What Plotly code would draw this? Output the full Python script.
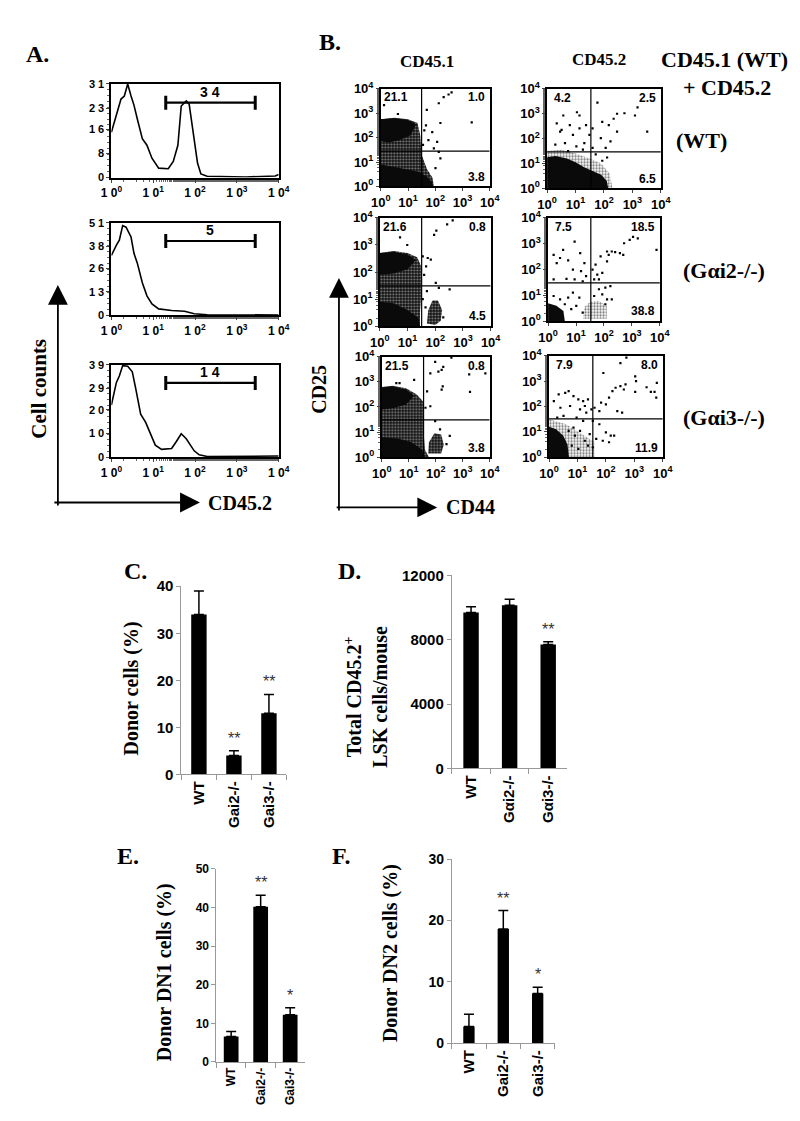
import numpy as np
import plotly.graph_objects as go

W, H = 800, 1121
SANS = "Liberation Sans"
SERIF = "Liberation Serif"

# ---------------- Panel A: histograms (x as log10 exponent, y counts) ----------------
h1_logx = [0.0, 0.04, 0.12, 0.23, 0.31, 0.39, 0.47, 0.54, 0.62, 0.74, 0.85, 0.97, 1.13, 1.36, 1.48,
           1.59, 1.67, 1.79, 1.86, 1.98, 2.06, 2.14, 2.29, 3.22, 3.92, 4.0]
h1_counts = [15, 17, 21, 26, 27, 31, 27, 24, 19.4, 12.9, 10.7, 6.4, 3.1, 2.9, 5.3,
             10.7, 23.7, 25.4, 24.3, 11.8, 4.8, 1.2, 0.4, 0.2, 0.5, 1]
h1_yticks = [0, 8, 16, 23, 31]
h1_gate_pct = "3 4"
h1_gate_y = 24.8

h2_logx = [0.0, 0.04, 0.12, 0.19, 0.27, 0.35, 0.47, 0.54, 0.62, 0.74, 0.85, 0.97, 1.13, 1.44,
           1.75, 1.98, 2.29, 4.0]
h2_counts = [33, 35, 38.7, 41.4, 49.5, 48.6, 43.2, 34.2, 28.8, 18, 10.8, 6.3, 3.6, 2.7,
             2.3, 0.9, 0.4, 0.2]
h2_yticks = [0, 13, 26, 38, 51]
h2_gate_pct = "5"
h2_gate_y = 41

h3_logx = [0.0, 0.04, 0.12, 0.19, 0.27, 0.39, 0.50, 0.58, 0.70, 0.82, 0.93, 1.05, 1.20, 1.44,
           1.55, 1.67, 1.79, 1.86, 1.98, 2.10, 2.29, 4.0]
h3_counts = [22, 25.3, 31.5, 34.2, 38.6, 38.3, 36, 29.1, 18.1, 14.7, 9.9, 5.1, 3.3, 3.7,
             6.5, 9.9, 7.8, 5.8, 2.7, 1, 0.3, 0.5]
h3_yticks = [0, 10, 20, 29, 39]
h3_gate_pct = "1 4"
h3_gate_y = 31.3

gate_logx = [1.30, 3.44]

# ---------------- Panel B: dot plots (log10 exponents) ----------------
quad_pct = [
    ["21.1", "1.0", "3.8"],
    ["4.2", "2.5", "6.5"],
    ["21.6", "0.8", "4.5"],
    ["7.5", "18.5", "38.8"],
    ["21.5", "0.8", "3.8"],
    ["7.9", "8.0", "11.9"],
]
quad_gate = [(1.50, 1.45), (1.54, 1.47), (1.51, 1.49), (1.53, 1.49), (1.55, 1.49), (1.54, 1.51)]

# sparse dots
p1_x = [1.69, 2.13, 2.31, 2.49, 2.60, 3.34, 2.19, 1.66, 1.89, 2.07, 1.95, 0.12, 0.63, 2.13, 2.19, 2.01, 1.60, 1.75, 1.55]
p1_y = [3.14, 3.41, 3.66, 3.77, 3.86, 2.63, 2.60, 2.50, 2.23, 1.83, 1.56, 3.33, 2.97, 1.42, 1.15, 0.75, 2.30, 1.90, 1.70]

p2_x = [1.77, 0.57, 1.05, 2.46, 2.72, 3.09, 3.18, 3.52, 0.34, 0.80, 1.14, 1.37, 0.46, 0.91, 1.31, 0.63, 0.29, 1.03,
        1.60, 1.94, 2.17, 2.34, 2.46, 1.89, 2.06, 2.23, 1.71, 1.94, 2.11, 1.49, 1.60, 1.26, 0.74, 0.51, 1.14]
p2_y = [3.45, 2.93, 3.06, 3.00, 3.02, 2.93, 3.26, 2.28, 2.61, 2.54, 2.41, 2.54, 2.28, 2.15, 1.82, 1.82, 1.76, 1.69,
        2.41, 2.67, 2.54, 2.80, 2.28, 2.02, 1.63, 1.89, 1.37, 1.11, 1.24, 2.15, 1.63, 1.56, 1.50, 2.35, 2.93]

p3_x = [1.96, 2.04, 2.43, 2.63, 0.73, 0.99, 1.55, 1.73, 1.84, 1.67, 2.02, 2.13, 2.52, 2.29, 1.60, 1.70, 1.55, 1.65]
p3_y = [3.37, 3.53, 3.76, 3.91, 3.28, 3.00, 2.58, 2.52, 2.46, 2.21, 1.60, 1.42, 1.36, 0.33, 1.90, 1.30, 1.00, 0.70]

p4_x = [0.95, 0.54, 0.20, 0.43, 0.72, 1.15, 1.30, 0.31, 0.89, 1.18, 1.36, 0.95, 0.66, 1.24, 0.20,
        1.59, 1.70, 1.88, 2.11, 2.17, 2.28, 2.40, 2.57, 2.69, 2.72, 2.92, 3.04, 3.21, 3.88, 1.76, 1.94, 1.65, 1.82, 2.11,
        2.05, 2.23, 1.82, 2.11, 1.94, 1.65, 2.28, 2.05,
        0.20, 0.43, 0.72, 0.89, 1.12, 1.01, 0.83, 0.60, 1.24]
p4_y = [3.08, 2.76, 2.57, 2.45, 2.36, 2.64, 2.25, 2.25, 2.00, 1.94, 1.75, 1.62, 1.64, 1.55, 1.62,
        2.00, 2.19, 2.51, 2.32, 2.57, 2.70, 2.68, 2.64, 2.57, 3.02, 3.15, 3.27, 3.21, 2.76, 1.81, 1.87, 1.62, 1.62, 2.70,
        1.30, 1.36, 1.24, 0.85, 1.04, 0.98, 0.85, 0.66,
        0.98, 0.85, 0.92, 1.11, 0.92, 0.60, 0.47, 0.66, 0.34]

p5_x = [1.98, 2.28, 2.58, 2.22, 2.10, 1.80, 3.24, 3.84, 3.27, 2.26, 2.22, 0.54, 0.66, 1.20, 1.68, 1.62, 1.98, 2.16, 2.52, 2.40, 1.80]
p5_y = [3.80, 3.60, 3.96, 3.48, 3.41, 3.34, 3.30, 3.34, 2.60, 2.82, 2.69, 2.95, 2.95, 3.08, 2.62, 1.97, 1.44, 1.11, 0.85, 0.52, 2.03]

p6_x = [0.17, 0.34, 0.57, 0.69, 0.86, 1.03, 1.20, 1.37, 0.40, 0.74, 1.09, 1.31, 0.29, 0.51, 0.97, 1.20, 1.49, 1.26,
        1.60, 1.77, 1.83, 2.00, 2.11, 2.23, 2.34, 2.51, 2.63, 2.69, 2.51, 2.72, 1.91, 3.03, 3.06, 3.03, 3.43, 3.58, 3.71,
        3.79, 3.77, 2.40, 2.57,
        1.54, 1.77, 2.00, 2.17, 2.29, 1.89, 2.11, 1.66, 1.43, 1.09, 0.91, 1.26, 0.80, 1.03, 1.37, 1.54, 0.69, 0.86]
p6_y = [2.21, 2.48, 2.54, 2.61, 2.41, 2.28, 2.21, 2.28, 1.95, 2.02, 1.89, 1.76, 1.56, 1.63, 1.56, 1.43, 1.89, 2.02,
        1.95, 1.82, 2.15, 2.08, 2.35, 2.61, 2.74, 2.80, 2.67, 2.87, 3.71, 3.93, 3.32, 3.19, 3.00, 2.58, 2.76, 2.58, 2.58,
        2.93, 2.35, 1.82, 1.76,
        1.43, 1.30, 0.98, 0.85, 0.85, 0.65, 0.59, 0.72, 0.91, 1.04, 0.85, 0.65, 0.46, 0.33, 0.46, 0.39, 1.04, 1.17]

# dense clouds: outlines (log10 exponents)
# "speck" = mostly black with white gaps, "sparse" = black specks on white, "solid" = black
clouds = [
    [("speck", [0, 0, 0.5, 1.0, 1.35, 1.45, 1.5, 1.7, 1.9, 1.95], [0, 2.75, 2.82, 2.75, 2.6, 2.1, 1.3, 0.7, 0.35, 0]),
     ("solid", [0, 0, 0.5, 1.0, 1.3, 1.1, 0.7, 0.3], [1.85, 2.75, 2.8, 2.72, 2.55, 2.1, 1.9, 1.8]),
     ("solid", [0, 0, 0.5, 1.0, 1.4, 1.7, 1.9, 1.9], [0, 0.9, 0.8, 0.7, 0.6, 0.4, 0.15, 0])],
    [("sparse", [0, 0, 0.5, 1.0, 1.5, 1.9, 2.2, 2.3], [0, 1.5, 1.55, 1.4, 1.2, 1.0, 0.6, 0]),
     ("solid", [0, 0, 0.3, 0.7, 1.0, 1.3, 1.6, 1.9, 2.1, 2.15], [0, 1.25, 1.3, 1.2, 1.05, 0.85, 0.7, 0.55, 0.3, 0])],
    [("speck", [0, 0, 0.5, 1.0, 1.35, 1.5, 1.5, 1.45, 1.45], [0, 2.7, 2.78, 2.7, 2.55, 2.2, 1.2, 0.5, 0]),
     ("solid", [0, 0, 0.5, 1.0, 1.3, 1.0, 0.5], [1.9, 2.7, 2.75, 2.65, 2.45, 2.1, 1.95]),
     ("solid", [0, 0, 0.5, 1.0, 1.4, 1.45], [0, 0.9, 0.85, 0.6, 0.3, 0]),
     ("speck", [1.7, 1.75, 1.9, 2.1, 2.25, 2.2, 2.0], [0.1, 0.6, 0.95, 0.95, 0.6, 0.2, 0.05])],
    [("solid", [0, 0, 0.3, 0.55, 0.6], [0, 0.7, 0.6, 0.4, 0]),
     ("sparse", [1.25, 1.3, 1.5, 1.8, 2.1, 2.1], [0.1, 0.55, 0.75, 0.8, 0.6, 0.1])],
    [("speck", [0, 0, 0.4, 0.9, 1.3, 1.55, 1.55, 1.6, 1.75], [0, 2.8, 2.85, 2.75, 2.5, 2.2, 1.0, 0.3, 0]),
     ("solid", [0, 0, 0.4, 0.9, 1.2, 0.9, 0.4], [1.9, 2.78, 2.82, 2.7, 2.45, 2.1, 1.95]),
     ("solid", [0, 0, 0.6, 1.1, 1.5, 1.6], [0, 0.8, 0.75, 0.6, 0.3, 0]),
     ("speck", [1.72, 1.75, 1.95, 2.2, 2.3, 2.2], [0.15, 0.6, 0.95, 0.9, 0.5, 0.15])],
    [("sparse", [0, 0, 0.6, 1.2, 1.6, 1.6], [0, 1.5, 1.3, 0.9, 0.6, 0]),
     ("solid", [0, 0, 0.25, 0.5, 0.65, 0.7], [0, 1.2, 1.1, 0.85, 0.5, 0])],
]
dots = [(p1_x, p1_y), (p2_x, p2_y), (p3_x, p3_y), (p4_x, p4_y), (p5_x, p5_y), (p6_x, p6_y)]

# ---------------- Panels C-F: bar charts ----------------
c_cats = ["WT", "Gai2-/-", "Gai3-/-"]
c_vals = [34, 4, 13]
c_err = [5, 1, 4]
c_stars = ["", "**", "**"]

d_cats = ["WT", "Gαi2-/-", "Gαi3-/-"]
d_vals = [9700, 10150, 7700]
d_err = [350, 370, 180]
d_stars = ["", "", "**"]

e_cats = ["WT", "Gai2-/-", "Gai3-/-"]
e_vals = [6.6, 40.2, 12.2]
e_err = [1.3, 3.0, 1.8]
e_stars = ["", "**", "*"]

f_cats = ["WT", "Gai2-/-", "Gai3-/-"]
f_vals = [2.7, 18.6, 8.1]
f_err = [2.0, 3.0, 1.0]
f_stars = ["", "**", "*"]

# =====================================================================
fig = go.Figure()
layout = {}
annotations = []
counter = [0]


def new_axes(x0, x1, y0, y1, xspec, yspec):
    counter[0] += 1
    n = counter[0]
    s = "" if n == 1 else str(n)
    layout["xaxis" + s] = dict(domain=[x0 / W, x1 / W], anchor="y" + s, **xspec)
    layout["yaxis" + s] = dict(domain=[1 - y1 / H, 1 - y0 / H], anchor="x" + s, **yspec)
    return "x" + s, "y" + s


def bold(size, family=SANS, color="black"):
    return dict(family=family, size=size, color=color, weight="bold")


def paper_text(text, px, py, size, family=SERIF, angle=0, xanchor="center", yanchor="middle"):
    annotations.append(dict(text=text, x=px / W, y=1 - py / H, xref="paper", yref="paper",
                            showarrow=False, textangle=angle, font=bold(size, family),
                            xanchor=xanchor, yanchor=yanchor))


def arrow(hx, hy, tx, ty):
    annotations.append(dict(text="", x=hx / W, y=1 - hy / H, xref="paper", yref="paper",
                            showarrow=True, ax=tx - hx, ay=ty - hy, axref="pixel", ayref="pixel",
                            arrowhead=2, arrowsize=2.2, arrowwidth=1.8, arrowcolor="black"))


decades = [1, 10, 100, 1000, 10000]

# ---------- Panel A ----------
hist_boxes = [(68, 163), (209, 303), (353, 447)]
hists = [(h1_logx, h1_counts, h1_yticks, h1_gate_pct, h1_gate_y),
         (h2_logx, h2_counts, h2_yticks, h2_gate_pct, h2_gate_y),
         (h3_logx, h3_counts, h3_yticks, h3_gate_pct, h3_gate_y)]
for (top, bot), (lx, cnt, yt, gp, gy) in zip(hist_boxes, hists):
    xspec = dict(type="log", range=[0, 4], tickvals=decades,
                 ticktext=["1 0<sup>%d</sup>" % k for k in range(5)],
                 ticks="outside", ticklen=3, showline=True, linecolor="black", linewidth=2,
                 mirror=True, showgrid=False, zeroline=False, tickfont=bold(12),
                 minor=dict(ticks="outside", ticklen=2, tickcolor="#666"))
    yspec = dict(range=[0, yt[-1]], tickmode="array", tickvals=yt,
                 ticktext=[" ".join(str(v)) for v in yt],
                 ticks="outside", ticklen=3, showline=True, linecolor="black", linewidth=2,
                 mirror=True, showgrid=False, zeroline=False, tickfont=bold(11),
                 minor=dict(ticks="outside", ticklen=2, tickcolor="#666", dtick=yt[-1] / 16))
    xa, ya = new_axes(95, 267, top, bot, xspec, yspec)
    fig.add_trace(go.Scatter(x=10 ** np.array(lx), y=cnt, mode="lines",
                             line=dict(color="black", width=1.6), xaxis=xa, yaxis=ya))
    fig.add_trace(go.Scatter(x=10 ** np.array(gate_logx), y=[gy, gy], mode="lines+markers",
                             line=dict(color="black", width=2.2),
                             marker=dict(symbol="line-ns", size=10, line=dict(width=3, color="black")),
                             xaxis=xa, yaxis=ya))
    annotations.append(dict(text=gp, x=sum(gate_logx) / 2, y=gy, xref=xa, yref=ya,
                            showarrow=False, yanchor="bottom", yshift=1, font=bold(14)))

paper_text("A.", 19, 38, 24)
paper_text("Cell counts", 21, 377, 21, angle=-90)
paper_text("CD45.2", 192, 493, 20, xanchor="left")
arrow(40, 272, 40, 494)
arrow(186, 493, 39, 493)

# ---------- Panel B ----------
scatter_boxes = [(372, 484, 73, 172), (543, 660, 73, 174),
                 (371, 485, 204, 314), (544, 659, 204, 309),
                 (373, 484, 345, 447), (545, 662, 344, 447)]
for i, (x0, x1, y0, y1) in enumerate(scatter_boxes):
    common = dict(type="log", range=[0, 4], tickvals=decades,
                  ticktext=["10<sup>%d</sup>" % k for k in range(5)],
                  ticks="outside", ticklen=3, showline=True, linecolor="black", linewidth=1.5,
                  mirror=True, showgrid=False, zeroline=False, tickfont=bold(13))
    yspec = dict(common, minor=dict(ticks="outside", ticklen=2, tickcolor="#666"))
    xa, ya = new_axes(x0, x1, y0, y1, dict(common), yspec)
    for kind, cx, cy in clouds[i]:
        if kind == "solid":
            fig.add_trace(go.Scatter(x=10 ** np.array(cx), y=10 ** np.array(cy), mode="lines",
                                     fill="toself", fillcolor="#0a0a0a", line=dict(width=0),
                                     xaxis=xa, yaxis=ya))
        elif kind == "speck":
            fig.add_trace(go.Scatter(x=10 ** np.array(cx), y=10 ** np.array(cy), mode="lines",
                                     fill="toself", fillcolor="rgba(0,0,0,0)", line=dict(width=0),
                                     fillpattern=dict(shape=".", size=3, solidity=0.35,
                                                      fgcolor="white", bgcolor="#111"),
                                     xaxis=xa, yaxis=ya))
        else:
            fig.add_trace(go.Scatter(x=10 ** np.array(cx), y=10 ** np.array(cy), mode="lines",
                                     fill="toself", fillcolor="rgba(0,0,0,0)", line=dict(width=0),
                                     fillpattern=dict(shape=".", size=3, solidity=0.45,
                                                      fgcolor="black", bgcolor="white"),
                                     xaxis=xa, yaxis=ya))
    dx, dy = dots[i]
    fig.add_trace(go.Scatter(x=10 ** np.array(dx), y=10 ** np.array(dy), mode="markers",
                             marker=dict(symbol="square", size=2.2, color="black"),
                             xaxis=xa, yaxis=ya))
    qx, qy = quad_gate[i]
    fig.add_trace(go.Scatter(x=[10 ** qx, 10 ** qx], y=[1, 10000], mode="lines",
                             line=dict(color="black", width=1.2), xaxis=xa, yaxis=ya))
    fig.add_trace(go.Scatter(x=[1, 10000], y=[10 ** qy, 10 ** qy], mode="lines",
                             line=dict(color="black", width=1.2), xaxis=xa, yaxis=ya))
    tl, tr, br = quad_pct[i]
    annotations.append(dict(text=tl, x=0.55, y=3.65, xref=xa, yref=ya, showarrow=False, font=bold(12)))
    annotations.append(dict(text=tr, x=3.9, y=3.65, xref=xa, yref=ya, showarrow=False,
                            xanchor="right", font=bold(12)))
    annotations.append(dict(text=br, x=3.9, y=0.38, xref=xa, yref=ya, showarrow=False,
                            xanchor="right", font=bold(12)))

paper_text("B.", 320, 25, 24)
paper_text("CD45.1", 420, 45, 17)
paper_text("CD45.2", 596, 43, 17)
paper_text("CD45.1 (WT)", 725, 43, 22)
paper_text("+ CD45.2", 728, 72, 22)
paper_text("(WT)", 702, 125, 22)
paper_text("(Gαi2-/-)", 725, 257, 22)
paper_text("(Gαi3-/-)", 725, 407, 22)
paper_text("CD25", 309, 378, 20, angle=-90)
paper_text("CD44", 437, 498, 20, xanchor="left")
arrow(329, 265, 329, 499)
arrow(430, 498, 328, 498)

# ---------- Panels C-F ----------
bars = [
    (c_cats, c_vals, c_err, c_stars, (167, 275, 578, 769), [0, 40], 10, 0.44, 15, 15),
    (d_cats, d_vals, d_err, d_stars, (445, 564, 567, 763), [0, 12000], 4000, 0.40, 15, 15),
    (e_cats, e_vals, e_err, e_stars, (203, 294, 865, 1061), [0, 50], 10, 0.50, 12, 12),
    (f_cats, f_vals, f_err, f_stars, (445, 551, 855, 1042), [0, 30], 10, 0.33, 14, 15),
]
for cats, vals, err, stars, (x0, x1, y0, y1), yr, dt, bw, yfs, xfs in bars:
    xspec = dict(type="category", tickson="boundaries", ticks="outside", ticklen=5,
                 tickcolor="#999", showline=True, linecolor="#999", linewidth=1,
                 tickangle=-90, tickfont=bold(xfs), showgrid=False, zeroline=False,
                 range=[-0.5, 2.5])
    yspec = dict(range=yr, dtick=dt, tickformat="d", ticks="outside", ticklen=4, tickcolor="#999",
                 showline=True, linecolor="#999", linewidth=1, tickfont=bold(yfs),
                 showgrid=False, zeroline=False)
    xa, ya = new_axes(x0, x1, y0, y1, xspec, yspec)
    fig.add_trace(go.Bar(x=cats, y=vals, width=bw, marker=dict(color="black", line=dict(width=0)),
                         error_y=dict(type="data", symmetric=False, array=err, arrayminus=[0] * len(err),
                                      color="black", thickness=1.5, width=5),
                         xaxis=xa, yaxis=ya))
    for k, s in enumerate(stars):
        if s:
            annotations.append(dict(text=s, x=k, y=vals[k] + err[k], xref=xa, yref=ya,
                                    showarrow=False, yanchor="bottom", yshift=2,
                                    font=dict(family=SANS, size=16, color="#333")))

paper_text("C.", 120, 563, 24)
paper_text("D.", 340, 563, 24)
paper_text("E.", 112, 852, 24)
paper_text("F.", 331, 852, 24)
paper_text("Donor cells (%)", 116, 682, 20, angle=-90)
paper_text("Total CD45.2<sup>+</sup><br>LSK cells/mouse", 356, 690, 20, angle=-90)
paper_text("Donor DN1 cells (%)", 149, 970, 20, angle=-90)
paper_text("Donor DN2 cells (%)", 382, 950, 20, angle=-90)

fig.update_layout(**layout)
fig.update_layout(width=W, height=H, margin=dict(l=0, r=0, t=0, b=0),
                  paper_bgcolor="white", plot_bgcolor="white", showlegend=False,
                  annotations=annotations)
fig.write_html("out.html")
